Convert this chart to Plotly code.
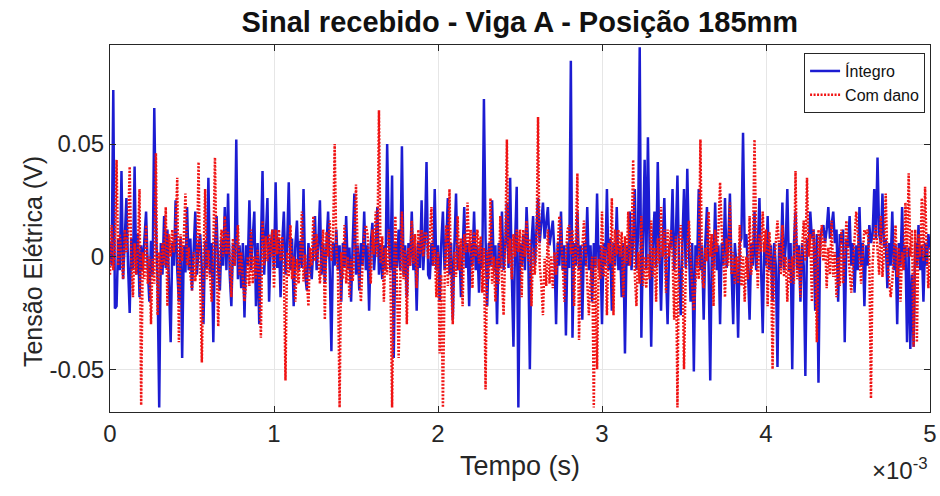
import numpy as np
import plotly.graph_objects as go

# Signal values in millivolts (sampled every 10 microseconds, 0 to 5 ms)
integro_mv = [
    6, -4, 74, -23, -22, 8, -6, 38, -10, 6, 26, -4, -25, 8, -6, 40, -8, 10, -18, 5,
    -6, 8, 20, -5, -20, 7, -8, 66, 14, -10, -67, 6, -8, 18, -5, 12, -10, -38, 6, -4,
    25, -6, -20, 8, -45, 5, -7, 22, -6, 8, -15, 6, 20, -8, 4, 10, -6, -30, 7, -5,
    35, -8, 6, -38, 5, 18, -6, -15, 8, -4, 22, -6, 28, -8, -22, 6, -4, 52, -10, 5,
    -14, 6, -27, 5, -4, 25, -6, 8, 20, -22, 6, -30, 8, 38, -8, 6, 26, -20, 5, 12,
    -6, 33, -5, 8, -18, 6, 20, -8, 5, 33, -6, 8, -22, 5, 16, -6, 7, -5, 30, -8,
    -15, 6, -5, -10, 7, 18, -6, 5, 25, -8, 6, -12, 5, 20, -6, -42, 6, -4, 12, -6,
    5, -20, 6, -5, 18, -6, 4, -20, 6, 28, -8, 5, -15, 6, -4, 20, -6, 5, -24, 6,
    15, -6, 5, 22, -8, 6, -10, 5, -6, 50, 8, -6, 36, -45, 6, -5, 12, -6, 49, -8,
    5, -18, 6, -4, 20, -6, 5, -24, 7, -5, 25, -6, 8, 42, -8, -10, 6, -4, 30, -6,
    5, -20, 6, 20, -6, 5, 26, -8, 6, -28, 5, 28, -6, 5, -18, 6, 22, -5, 6, -22,
    6, -4, 20, -6, 5, -16, 6, -5, 70, 8, -22, 6, -4, 25, -6, 5, -30, 6, -5, 20,
    -6, 5, 24, -5, 35, -8, -40, 6, 31, -67, 6, -4, 10, -6, 22, 4, -50, 6, 18, -4,
    10, 26, 6, 14, 24, 8, 15, 22, 5, 12, 16, 2, -30, 6, -4, 20, -6, 5, -35, 6,
    -5, 87, -36, 6, -4, 20, -6, 5, -28, 6, -4, 22, -6, 5, -20, 6, -5, 28, -6, 5,
    -30, 6, -4, 30, -6, 8, -24, 6, -4, 22, -6, 5, -18, 6, -43, 5, -4, 20, -6, 8,
    30, -6, 10, 93, -36, 8, 43, -6, 53, 5, -40, 6, 20, -5, 42, 4, -24, 6, 26, -6,
    -30, 6, 4, 30, -6, 8, 36, -4, -26, 6, 30, -5, 39, 4, -20, 6, -51, 5, -4, 30,
    -6, 5, -28, 6, 22, -4, -55, 6, -5, 24, -6, 5, -30, 6, -4, 26, -5, 6, 28, -6,
    -30, 6, -4, -36, 6, 8, 55, 4, 10, -6, -28, 6, -4, 20, -6, 5, 26, -5, -34, 6,
    -4, 18, -6, 5, -20, 6, -4, -49, 6, -5, 24, -6, 5, 30, -6, 6, -50, 5, 20, -6,
    5, -20, 6, -4, -53, 8, 4, 20, 8, 12, -24, 10, -56, 8, 12, 14, 6, 12, 22, 8,
    14, 20, 6, 12, -20, 10, 6, 12, -38, 8, 4, 18, -4, 6, -16, 5, -6, 22, -4, 6,
    -22, 5, -4, 14, 6, 10, 30, 8, 44, 10, 6, 28, 4, 8, -14, 6, -4, 20, -6, 5,
    -30, 6, -4, 22, -6, 5, -38, 4, -41, -8, -40, 6, -4, 14, -6, 5, -20, 6, -4, 10,
    4,
]

com_dano_mv = [
    -8, 14, -6, 4, 43, -4, 10, 0, -10, 12, 2, 11, 40, -2, -18, 6, -8, 4, 30, -66,
    2, -10, 14, -12, 0, -30, -1, -12, 46, -26, 2, -8, 6, -4, 22, -22, 10, 0, 12, 2,
    12, 35, -38, 10, -2, 9, 28, -4, 4, -8, -15, 2, -11, -2, 42, -12, -47, -1, 30, -10,
    3, -9, -20, 4, 44, -3, -31, 2, 12, 0, 18, 1, 11, 0, -18, 8, -4, 4, 14, -8,
    2, -10, -20, -12, 0, -13, 12, -12, 0, -10, 3, -9, -36, 16, -4, 9, -2, 10, 0, 12,
    -14, 12, 1, 12, -2, 9, -4, -55, 2, -9, 14, -10, 0, -20, -1, -12, 0, 20, -11, 1,
    -9, -22, 4, -4, 18, -2, 10, 0, -12, 1, 12, -28, 11, 0, 16, -2, 8, 50, 4, -8,
    -67, 2, -10, 14, -12, 0, -18, -1, -11, 2, 32, 3, -8, -20, -4, 9, 14, 10, 0, -12,
    12, 1, 20, 0, 65, -3, 9, -20, 4, -8, 12, -9, -67, -10, 18, -12, -45, -12, 20, -10,
    3, -30, 4, -4, 16, -3, 10, -14, 12, 1, 12, 0, 11, 10, -1, 9, 22, -4, 4, -18,
    2, -43, -8, -67, -12, 14, -13, 30, -12, -30, 2, -9, 18, -6, 8, -22, 10, 2, 24, 2,
    12, -14, 11, 0, 12, -3, 9, -16, 4, -59, 3, -10, 26, -12, 0, -20, -1, -12, 18, -10,
    -26, 3, 52, -3, 8, -10, 10, 0, 12, 2, 12, -18, 12, 0, 16, -2, 8, -22, 4, -8,
    2, 62, -4, -12, -26, -1, -13, 12, -12, 0, -14, 2, -8, 4, 18, 9, -2, -20, 1, 12,
    14, 1, 12, -22, 10, 37, -37, -2, 4, 16, 3, -9, -26, -10, 0, -67, 0, -50, -1, -10,
    20, -9, 4, -26, 6, -3, 26, -26, 12, 1, 12, 0, 11, -18, 9, -3, 20, -4, 4, 43,
    -8, -22, 2, -12, 18, -13, 0, -14, 1, -10, 16, -9, 4, -20, 8, -3, 22, 0, 12, -16,
    12, 0, 12, 1, -28, 9, -67, 8, 14, 2, -50, -9, 2, 16, -1, -12, -24, -11, 0, -10,
    52, -9, -14, 4, -2, 20, 0, 10, -22, 12, 2, 12, 33, 11, 0, -18, 8, -4, 24, -8,
    2, -12, 0, -12, 14, -13, 0, -20, 0, -10, 18, -8, 4, 52, 8, -14, 10, 2, 20, 2,
    12, -22, 11, 0, -50, -3, 9, 16, 4, -8, 14, -9, 0, -20, -1, -12, 0, -12, 38, -10,
    3, -18, 4, 16, -2, 35, 0, 10, -20, 12, 2, -38, 12, 0, 14, -2, 8, -14, 4, -8,
    16, -9, 2, -18, 0, -13, 12, -12, 0, 16, 3, -9, -16, -4, 8, 20, 10, 0, -12, 2,
    12, 10, 12, 0, -63, -3, 9, 14, 4, -8, 18, -9, 2, 28, -1, -12, -18, -11, 0, 14,
    -9, 4, -20, 2, -6, 24, 0, 37, 0, 12, -40, 12, -38, 10, 0, 26, -2, 31, 2, -14,
    4,
]

x_tick_vals = [0, 1e-3, 2e-3, 3e-3, 4e-3, 5e-3]
x_tick_text = ["0", "1", "2", "3", "4", "5"]
y_tick_vals = [-0.05, 0, 0.05]
y_tick_text = ["-0.05", "0", "0.05"]

t_end = 5e-3
tempo = np.linspace(0, t_end, len(integro_mv))
integro = np.array(integro_mv) / 1000.0
com_dano = np.array(com_dano_mv) / 1000.0

FONT = "Liberation Sans, Arial, sans-serif"
AX = "#262626"

fig = go.Figure()
fig.add_trace(go.Scatter(x=tempo, y=integro, mode="lines", name="Íntegro",
                         line=dict(color="#1c1cd2", width=2.5)))
fig.add_trace(go.Scatter(x=tempo, y=com_dano, mode="lines", name="Com dano",
                         line=dict(color="#f01414", width=2.5, dash="2px,1.5px")))

fig.update_layout(
    width=940, height=496,
    margin=dict(l=110, r=10, t=45, b=84),
    paper_bgcolor="white", plot_bgcolor="white",
    font=dict(family=FONT, color=AX),
    title=dict(text="<b>Sinal recebido - Viga A - Posição 185mm</b>",
               x=0.553, xanchor="center", y=0.955, yanchor="middle",
               font=dict(size=29, color="#111111")),
    showlegend=True,
    legend=dict(x=0.994, y=0.978, xanchor="right", yanchor="top",
                bgcolor="white", bordercolor=AX, borderwidth=1,
                font=dict(size=16, color="#111111"),
                tracegroupgap=0, itemwidth=30),
)
fig.update_xaxes(range=[0, t_end], tickvals=x_tick_vals, ticktext=x_tick_text,
                 automargin=False, ticklabeloverflow="allow",
                 showgrid=True, gridcolor="#e6e6e6", gridwidth=1,
                 showline=True, linecolor=AX, linewidth=1, mirror="ticks",
                 ticks="inside", ticklen=6, tickcolor=AX,
                 tickfont=dict(size=24, color=AX), zeroline=False,
                 title=dict(text="Tempo (s)", font=dict(size=27, color=AX), standoff=10))
fig.update_yaxes(range=[-0.069, 0.094], tickvals=y_tick_vals, ticktext=y_tick_text,
                 automargin=False,
                 showgrid=True, gridcolor="#e6e6e6", gridwidth=1,
                 showline=True, linecolor=AX, linewidth=1, mirror="ticks",
                 ticks="inside", ticklen=6, tickcolor=AX,
                 tickfont=dict(size=24, color=AX), zeroline=False)
fig.add_annotation(text="Tensão Elétrica (V)", xref="paper", yref="paper",
                   x=-0.094, y=0.411, xanchor="center", yanchor="middle",
                   textangle=-90, showarrow=False, font=dict(size=25, color=AX))
fig.add_annotation(text="×10<sup>-3</sup>", xref="paper", yref="paper",
                   x=1.0, y=-0.155, xanchor="right", yanchor="middle",
                   showarrow=False, font=dict(size=24, color=AX))

fig.write_html("out.html")
